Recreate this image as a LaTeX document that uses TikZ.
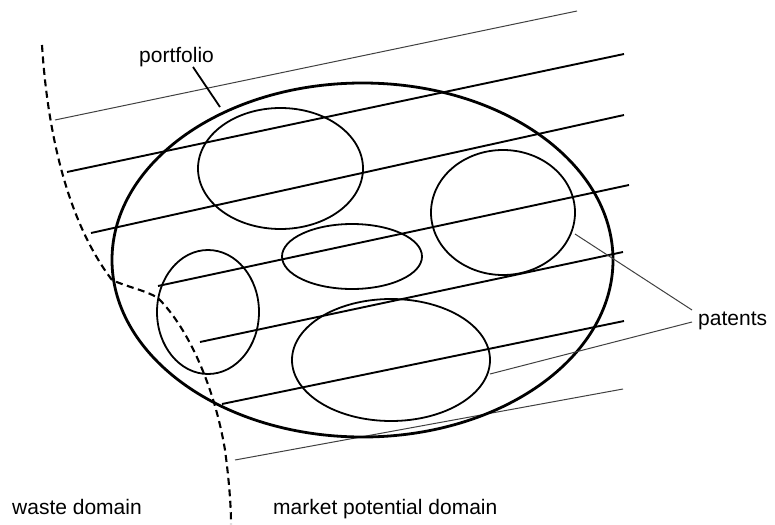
\documentclass[tikz,border=0pt]{standalone}
\usepackage{fontspec}
\setmainfont{Liberation Sans}
\usetikzlibrary{shapes.geometric}
\begin{document}
\begin{tikzpicture}[x=1pt,y=-1pt,
  lbl/.style={inner sep=0pt,anchor=base west,font=\fontsize{21}{25}\selectfont},
  patent/.style={ellipse,draw,line width=1.8pt,inner sep=0pt},
  portf/.style={ellipse,draw,line width=2.8pt,inner sep=0pt},
  thickln/.style={line width=1.9pt},
  thinln/.style={line width=1pt,black!75},
  domainline/.style={line width=2.1pt,dash pattern=on 7pt off 4.5pt}]
\useasboundingbox (0,0) rectangle (775,524);
% parallel lines
\coordinate (l1a) at (55,120);  \coordinate (l1b) at (577,11);
\coordinate (l2a) at (67,172);  \coordinate (l2b) at (624,54);
\coordinate (l3a) at (91,233);  \coordinate (l3b) at (624,115);
\coordinate (l4a) at (158,286); \coordinate (l4b) at (629,185);
\coordinate (l5a) at (200,342); \coordinate (l5b) at (623,252);
\coordinate (l6a) at (222,404); \coordinate (l6b) at (624,321);
\coordinate (l7a) at (235,460); \coordinate (l7b) at (623,389);
\draw[thinln] (l1a) -- (l1b);
\draw[thickln] (l2a) -- (l2b);
\draw[thickln] (l3a) -- (l3b);
\draw[thickln] (l4a) -- (l4b);
\draw[thickln] (l5a) -- (l5b);
\draw[thickln] (l6a) -- (l6b);
\draw[thinln] (l7a) -- (l7b);
% portfolio
\node[portf,minimum width=501pt,minimum height=354pt] (pf) at (362.5,260) {};
% patents
\node[patent,minimum width=165pt,minimum height=121pt] (pA) at (280.5,168.5) {};
\node[patent,minimum width=144pt,minimum height=125pt] (pB) at (503,212.5) {};
\node[patent,minimum width=140pt,minimum height=65pt] (pC) at (352,256.5) {};
\node[patent,minimum width=102pt,minimum height=124pt] (pD) at (208,312) {};
\node[patent,minimum width=198pt,minimum height=122pt] (pE) at (391,360) {};
% domain boundary
\coordinate (d0) at (42,45);
\coordinate (d9) at (231,524);
\draw[domainline] (d0) .. controls (48,140) and (70,225) .. (112,280)
  .. controls (130,288) and (145,290) .. (158,298)
  .. controls (190,330) and (215,390) .. (225,450)
  .. controls (229,480) and (231,505) .. (d9);
% labels
\node[lbl] (tport) at (139,63) {portfolio};
\node[lbl] (tpat) at (698,325) {patents};
\node[lbl] (twaste) at (12,514) {waste domain};
\node[lbl] (tmarket) at (273,514) {market potential domain};
% leaders
\coordinate (cport) at (220,107);
\coordinate (cpB) at (575,234);
\coordinate (cpE) at (490,374);
\draw[line width=1.8pt] (193,67) -- (cport);
\draw[thinln] (cpB) -- ([xshift=-6pt,yshift=15pt]tpat.base west);
\draw[thinln] (cpE) -- ([xshift=-6pt,yshift=3pt]tpat.base west);
\end{tikzpicture}
\end{document}
